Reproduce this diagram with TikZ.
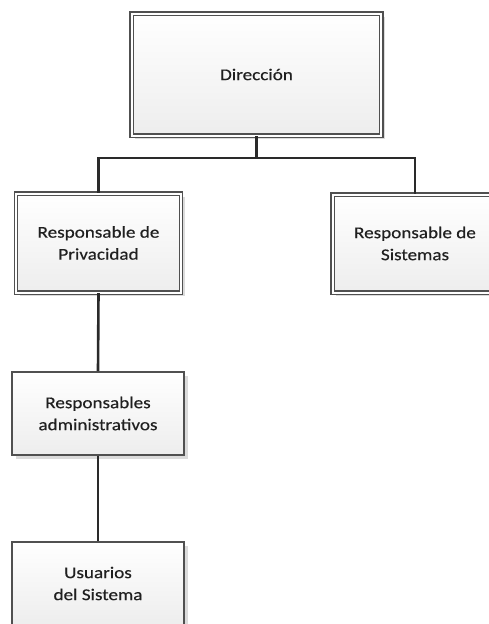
\documentclass[tikz,border=0pt]{standalone}
\usepackage{fontspec}
\setmainfont{Carlito}[FakeStretch=1.16, FakeBold=0.4]
\usetikzlibrary{shadows}
\definecolor{boxline}{HTML}{505050}
\definecolor{connline}{HTML}{2A2A2A}
\definecolor{txt}{HTML}{202020}
\tikzset{
  basebox/.style={rectangle, inner sep=0pt, align=center, text=txt,
    font=\fontsize{16.5}{22}\selectfont,
    top color=white, bottom color=black!7,
    drop shadow={shadow xshift=3.5pt, shadow yshift=-3.5pt, fill=black!14, opacity=1}},
  dblbox/.style={basebox, draw=boxline, line width=1.4pt, double=white, double distance=2pt},
  sglbox/.style={basebox, draw=boxline, line width=1.6pt},
  conn/.style={draw=connline, line width=2.6pt}
}
\begin{document}
\begin{tikzpicture}[x=1pt,y=-1pt]
\useasboundingbox (0,0) rectangle (488,624);
\node[dblbox, minimum width=249.5pt, minimum height=122pt] (dir) at (256.5,74.5) {Dirección};
\node[dblbox, minimum width=165pt, minimum height=99pt] (priv) at (98.5,243) {Responsable de\\Privacidad};
\node[dblbox, minimum width=165pt, minimum height=98pt] (sis) at (415,243.5) {Responsable de\\Sistemas};
\node[sglbox, minimum width=172pt, minimum height=83pt] (adm) at (98,413.5) {Responsables\\administrativos};
\node[sglbox, minimum width=172pt, minimum height=83pt] (usu) at (98,583.5) {Usuarios\\del Sistema};
\coordinate (j) at (256.5,158);
\draw[conn] (dir.south) -- (j);
\draw[conn] (priv.north) |- (j) -| (sis.north);
\draw[conn] (priv.south) -- (adm.north);
\draw[conn] (adm.south) -- (usu.north);
\end{tikzpicture}
\end{document}
